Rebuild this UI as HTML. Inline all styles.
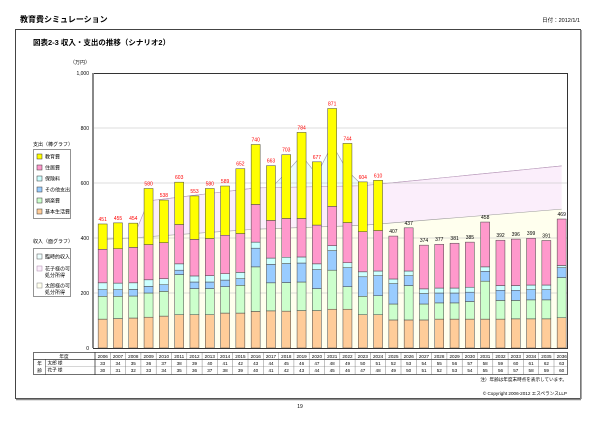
<!DOCTYPE html>
<html><head><meta charset="utf-8"><style>
body{margin:0;background:#fff;}
svg{display:block;font-family:"Liberation Sans","Noto Sans CJK JP",sans-serif;}
</style></head><body>
<svg id="s" width="600" height="424" viewBox="0 0 600 424">
<text x="20" y="22" font-size="8" font-weight="bold">教育費シミュレーション</text>
<text x="580" y="22" font-size="5.5" text-anchor="end">日付：2012/1/1</text>
<rect x="15.5" y="29.5" width="565" height="369" fill="none" stroke="#444" stroke-width="1"/>
<line x1="581" y1="30" x2="581" y2="399" stroke="#888" stroke-width="1.5"/>
<line x1="16" y1="399.5" x2="581" y2="399.5" stroke="#888" stroke-width="1.5"/>
<text x="33" y="45" font-size="7.5" font-weight="bold">図表2-3 収入・支出の推移（シナリオ2）</text>
<text x="70" y="64" font-size="5">（万円）</text>
<g font-size="5" text-anchor="end">
<text x="89" y="75">1,000</text><text x="89" y="130">800</text><text x="89" y="185">600</text>
<text x="89" y="240">400</text><text x="89" y="295">200</text><text x="89" y="350">0</text>
</g>
<g id="plot"></g>
<rect x="93.5" y="73.5" width="474" height="275" fill="none" stroke="#333" stroke-width="1"/>
<line x1="93" y1="73" x2="93" y2="348" stroke="#888" stroke-width="2"/>
<g font-size="5" text-anchor="middle" fill="#f00">
<text x="102.7" y="221">451</text><text x="118" y="220">455</text><text x="133.3" y="220">454</text><text x="148.6" y="185.5">580</text><text x="163.9" y="197">538</text><text x="179.2" y="179">603</text><text x="194.5" y="193">553</text><text x="209.8" y="185.5">580</text><text x="225.1" y="183">589</text><text x="240.4" y="165.7">652</text><text x="255.7" y="141.5">740</text><text x="271" y="162.7">663</text><text x="286.3" y="151.7">703</text><text x="301.6" y="129.4">784</text><text x="316.9" y="158.8">677</text><text x="332.2" y="105.5">871</text><text x="347.5" y="140.4">744</text><text x="362.8" y="179">604</text><text x="378.1" y="177.3">610</text>
</g>
<g font-size="5" text-anchor="middle" fill="#000">
<text x="393.4" y="233">407</text><text x="408.7" y="225">437</text><text x="424" y="242">374</text><text x="439.3" y="241">377</text><text x="454.6" y="240">381</text><text x="469.9" y="239">385</text><text x="485.2" y="219">458</text><text x="500.5" y="237">392</text><text x="515.8" y="236">396</text><text x="531.1" y="235">399</text><text x="546.4" y="237.5">391</text><text x="561.7" y="216">469</text>
</g>
<!-- legend 1 -->
<text x="33" y="146" font-size="5">支出（棒グラフ）</text>
<rect x="33.5" y="149.5" width="37" height="69" fill="#fff" stroke="#666" stroke-width="0.7"/>
<g font-size="5">
<rect x="37" y="154" width="5" height="5" fill="#ff0" stroke="#333" stroke-width="0.5"/><text x="45" y="158.5">教育費</text>
<rect x="37" y="165" width="5" height="5" fill="#f9c" stroke="#333" stroke-width="0.5"/><text x="45" y="169.5">住居費</text>
<rect x="37" y="176" width="5" height="5" fill="#cff" stroke="#333" stroke-width="0.5"/><text x="45" y="180.5">保険料</text>
<rect x="37" y="187" width="5" height="5" fill="#9cf" stroke="#333" stroke-width="0.5"/><text x="45" y="191.5">その他支出</text>
<rect x="37" y="198" width="5" height="5" fill="#cfc" stroke="#333" stroke-width="0.5"/><text x="45" y="202.5">娯楽費</text>
<rect x="37" y="209" width="5" height="5" fill="#fc9" stroke="#333" stroke-width="0.5"/><text x="45" y="213.5">基本生活費</text>
</g>
<text x="33" y="243" font-size="5">収入（面グラフ）</text>
<rect x="33.5" y="248.5" width="37" height="48" fill="#fff" stroke="#666" stroke-width="0.7"/>
<g font-size="5">
<rect x="37" y="254" width="5" height="5" fill="#eff" stroke="#555" stroke-width="0.5"/><text x="45" y="258.5">臨時的収入</text>
<rect x="37" y="266" width="5" height="5" fill="#fbeefb" stroke="#a8a" stroke-width="0.5"/><text x="45" y="270.5">花子様の可</text><text x="45" y="277">処分所得</text>
<rect x="37" y="283" width="5" height="5" fill="#ffffee" stroke="#888" stroke-width="0.5"/><text x="45" y="287.5">太郎様の可</text><text x="45" y="294">処分所得</text>
</g>
<g id="tbl" font-size="4.6" text-anchor="middle"></g>
<text x="567" y="381" font-size="4.6" text-anchor="end">注）年齢は年度末時点を表示しています。</text>
<text x="567" y="395" font-size="4.6" text-anchor="end">© Copyright 2006-2012 エスペランスLLP</text>
<text x="300" y="408" font-size="5" text-anchor="middle">19</text>
</svg>
<script>
var NS="http://www.w3.org/2000/svg",P=document.getElementById("plot");
function el(t,a,p){var e=document.createElementNS(NS,t);for(var k in a)e.setAttribute(k,a[k]);(p||P).appendChild(e);return e;}
function Y(v){return 348-0.275*v;}
function X(i){return 102.65+15.3*i;}
var tot=[451,455,454,580,538,603,553,580,589,652,740,663,703,784,677,871,744,604,610,407,437,374,377,381,385,458,392,396,399,391,469];
var base=[105,107,109,112,116,121,121,121,127,127,133,135,134,136,136,141,141,121,121,102,102,102,105,105,105,105,105,106,106,106,110];
var green=[188,188,189,200,206,267,216,216,223,228,295,237,238,240,216,283,223,188,190,160,227,160,164,164,169,243,173,173,175,175,256];
var blue=[212,212,213,224,230,283,240,240,247,252,363,304,307,309,285,354,292,259,263,234,263,198,200,200,203,279,210,210,212,212,292];
var cyan=[237,236,237,248,252,306,262,263,270,275,385,327,330,331,306,372,310,277,280,251,280,215,218,218,221,295,227,227,229,229,300];
var pink=[359,361,366,376,383,449,395,398,410,416,522,464,471,471,447,515,456,423,427];
for(var i=19;i<31;i++)pink[i]=tot[i];
// areas
var cream=[],pt=[],cy=[];
for(var i=0;i<31;i++){
 var c;
 if(i<=2)c=395+2.5*i; else if(i<=10)c=405+(432-405)*(i-3)/7; else if(i<=17)c=432+(446-432)*(i-10)/7; else c=446+(505-446)*(i-17)/13;
 cream.push(c);
 var p;
 if(i<=2)p=c; else if(i<=10)p=535+(582-535)*(i-3)/7; else if(i<=17)p=582+(590-582)*(i-10)/7; else p=590+(662-590)*(i-17)/13;
 pt.push(p);
}
var cyv={11:582,12:637,13:700,14:630,15:740,16:644};
for(var i=0;i<31;i++)cy.push(cyv[i]!==undefined?cyv[i]:pt[i]);
function poly(top,bot,fill,stroke){var s="";for(var i=0;i<31;i++)s+=X(i)+","+Y(top[i])+" ";for(var i=30;i>=0;i--)s+=X(i)+","+Y(bot[i])+" ";el("polygon",{points:s,fill:fill,stroke:"none"});
 var l="";for(var i=0;i<31;i++)l+=X(i)+","+Y(top[i])+" ";el("polyline",{points:l,fill:"none",stroke:stroke,"stroke-width":0.6});}
var zero=[];for(var i=0;i<31;i++)zero.push(0);
poly(cy,pt,"#eefcfc","#99a");
poly(pt,cream,"#fbeefb","#b9b");
poly(cream,zero,"#ffffee","#999");
[200,400,600,800].forEach(function(v){el("line",{x1:94,x2:567,y1:Y(v),y2:Y(v),stroke:"#bbb","stroke-width":0.6});});
var cols=["#fc9","#cfc","#9cf","#cff","#f9c","#ff0"];
for(var i=0;i<31;i++){
 var lv=[0,base[i],green[i],blue[i],cyan[i],pink[i],tot[i]];
 for(var k=0;k<6;k++){if(lv[k+1]-lv[k]<=0)continue;
  el("rect",{x:X(i)-4.5,y:Y(lv[k+1]),width:9,height:0.275*(lv[k+1]-lv[k]),fill:cols[k],stroke:"#444","stroke-width":0.5});}
}
// table
var T=document.getElementById("tbl");
el("rect",{x:33.5,y:352.5,width:534,height:22,fill:"none",stroke:"#333","stroke-width":0.7},T);
el("line",{x1:33,x2:567,y1:359.5,y2:359.5,stroke:"#333","stroke-width":0.7},T);
el("line",{x1:45,x2:567,y1:366.5,y2:366.5,stroke:"#999","stroke-width":0.4},T);
el("line",{x1:45.5,x2:45.5,y1:359,y2:375,stroke:"#333","stroke-width":0.5},T);
el("line",{x1:95,x2:95,y1:352,y2:375,stroke:"#333","stroke-width":0.8},T);
function tx(x,y,s){var t=el("text",{x:x,y:y},T);t.textContent=s;}
</script>
<svg width="0" height="0" style="position:absolute"></svg>
<script>
(function(){
var T=document.getElementById("tbl");
function el(a){var e=document.createElementNS("http://www.w3.org/2000/svg","line");for(var k in a)e.setAttribute(k,a[k]);T.appendChild(e);}
for(var i=1;i<31;i++){var x=95+15.3*i;el({x1:x,x2:x,y1:352,y2:375,stroke:"#666","stroke-width":0.4});}
})();
</script>
<svg width="600" height="424" style="position:absolute;left:0;top:0" font-family="Liberation Sans, Noto Sans CJK JP, sans-serif" font-size="4.6" text-anchor="middle">
<text x="64" y="357.8">年度</text>
<text x="39.5" y="365">年</text><text x="39.5" y="372">齢</text>
<text x="55" y="364.5">太郎 様</text><text x="55" y="371.5">花子 様</text>
<g>
<text x="102.7" y="357.8">2006</text><text x="118" y="357.8">2007</text><text x="133.3" y="357.8">2008</text><text x="148.6" y="357.8">2009</text><text x="163.9" y="357.8">2010</text><text x="179.2" y="357.8">2011</text><text x="194.5" y="357.8">2012</text><text x="209.8" y="357.8">2013</text><text x="225.1" y="357.8">2014</text><text x="240.4" y="357.8">2015</text><text x="255.7" y="357.8">2016</text><text x="271" y="357.8">2017</text><text x="286.3" y="357.8">2018</text><text x="301.6" y="357.8">2019</text><text x="316.9" y="357.8">2020</text><text x="332.2" y="357.8">2021</text><text x="347.5" y="357.8">2022</text><text x="362.8" y="357.8">2023</text><text x="378.1" y="357.8">2024</text><text x="393.4" y="357.8">2025</text><text x="408.7" y="357.8">2026</text><text x="424" y="357.8">2027</text><text x="439.3" y="357.8">2028</text><text x="454.6" y="357.8">2029</text><text x="469.9" y="357.8">2030</text><text x="485.2" y="357.8">2031</text><text x="500.5" y="357.8">2032</text><text x="515.8" y="357.8">2033</text><text x="531.1" y="357.8">2034</text><text x="546.4" y="357.8">2035</text><text x="561.7" y="357.8">2036</text>
</g>
<g>
<text x="102.7" y="364.8">33</text><text x="118" y="364.8">34</text><text x="133.3" y="364.8">35</text><text x="148.6" y="364.8">36</text><text x="163.9" y="364.8">37</text><text x="179.2" y="364.8">38</text><text x="194.5" y="364.8">39</text><text x="209.8" y="364.8">40</text><text x="225.1" y="364.8">41</text><text x="240.4" y="364.8">42</text><text x="255.7" y="364.8">43</text><text x="271" y="364.8">44</text><text x="286.3" y="364.8">45</text><text x="301.6" y="364.8">46</text><text x="316.9" y="364.8">47</text><text x="332.2" y="364.8">48</text><text x="347.5" y="364.8">49</text><text x="362.8" y="364.8">50</text><text x="378.1" y="364.8">51</text><text x="393.4" y="364.8">52</text><text x="408.7" y="364.8">53</text><text x="424" y="364.8">54</text><text x="439.3" y="364.8">55</text><text x="454.6" y="364.8">56</text><text x="469.9" y="364.8">57</text><text x="485.2" y="364.8">58</text><text x="500.5" y="364.8">59</text><text x="515.8" y="364.8">60</text><text x="531.1" y="364.8">61</text><text x="546.4" y="364.8">62</text><text x="561.7" y="364.8">63</text>
</g>
<g>
<text x="102.7" y="372">30</text><text x="118" y="372">31</text><text x="133.3" y="372">32</text><text x="148.6" y="372">33</text><text x="163.9" y="372">34</text><text x="179.2" y="372">35</text><text x="194.5" y="372">36</text><text x="209.8" y="372">37</text><text x="225.1" y="372">38</text><text x="240.4" y="372">39</text><text x="255.7" y="372">40</text><text x="271" y="372">41</text><text x="286.3" y="372">42</text><text x="301.6" y="372">43</text><text x="316.9" y="372">44</text><text x="332.2" y="372">45</text><text x="347.5" y="372">46</text><text x="362.8" y="372">47</text><text x="378.1" y="372">48</text><text x="393.4" y="372">49</text><text x="408.7" y="372">50</text><text x="424" y="372">51</text><text x="439.3" y="372">52</text><text x="454.6" y="372">53</text><text x="469.9" y="372">54</text><text x="485.2" y="372">55</text><text x="500.5" y="372">56</text><text x="515.8" y="372">57</text><text x="531.1" y="372">58</text><text x="546.4" y="372">59</text><text x="561.7" y="372">60</text>
</g>
</svg>
</body></html>
